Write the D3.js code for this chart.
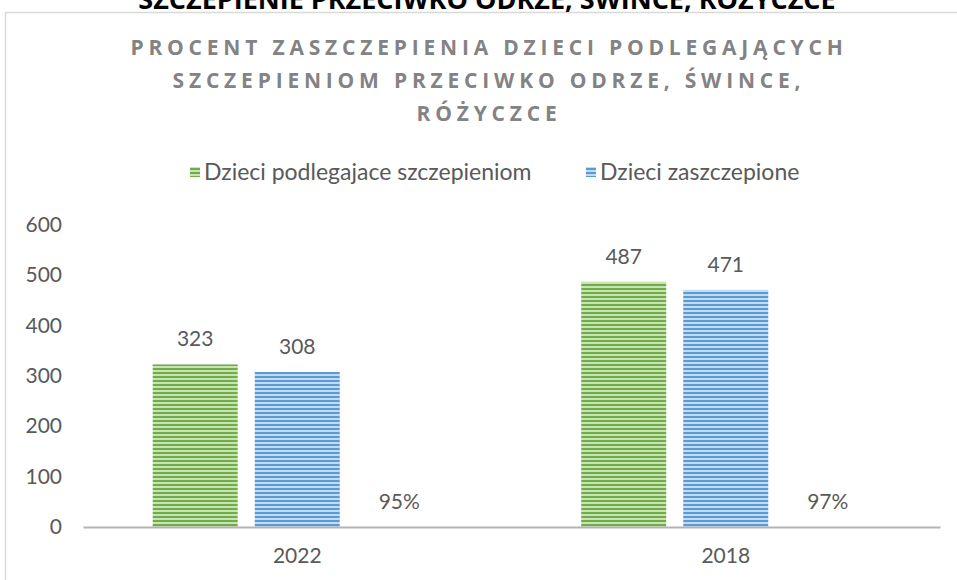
<!DOCTYPE html>
<html>
<head>
<meta charset="utf-8">
<script src="https://cdn.jsdelivr.net/npm/d3@7"></script>
<style>
  html, body { margin: 0; padding: 0; background: #fff; }
  svg { display: block; font-family: Lato, 'Open Sans', sans-serif; }
</style>
</head>
<body>
<div id="chart"></div>
<script>
// data
const categories = ['2022', '2018'];
const seriesNames = ['Dzieci podlegajace szczepieniom', 'Dzieci zaszczepione'];
const podlegajace = [323, 487];
const zaszczepione = [308, 471];
const procent = [0.95, 0.97];
const yTicks = [0, 100, 200, 300, 400, 500, 600];
const titleLines = [
  'PROCENT ZASZCZEPIENIA DZIECI PODLEGAJĄCYCH',
  'SZCZEPIENIOM PRZECIWKO ODRZE, ŚWINCE,',
  'RÓŻYCZCE'
];
const pageTitle = 'SZCZEPIENIE PRZECIWKO ODRZE, ŚWINCE, RÓŻYCZCE';

const width = 957, height = 580;
const margin = { top: 225, right: 17, bottom: 53, left: 83 };
const textColor = '#595959';

const svg = d3.select('#chart')
  .append('svg')
  .attr('width', width)
  .attr('height', height);

// striped fills like the Excel pattern
const defs = svg.append('defs');
const makeStripes = (id, dark, light) => {
  const p = defs.append('pattern')
    .attr('id', id)
    .attr('patternUnits', 'userSpaceOnUse')
    .attr('width', 8)
    .attr('height', 4);
  p.append('rect').attr('width', 8).attr('height', 4).attr('fill', light);
  p.append('rect').attr('width', 8).attr('height', 2).attr('fill', dark);
};
makeStripes('stripe-green', '#70ad47', '#c9e3b8');
makeStripes('stripe-blue', '#5b9bd5', '#c2dbf1');

// chart frame
svg.append('rect')
  .attr('x', 5.5)
  .attr('y', 12.5)
  .attr('width', 980)
  .attr('height', 620)
  .attr('fill', 'none')
  .attr('stroke', '#d9d9d9')
  .attr('stroke-width', 1.5);

// page heading, cut off at the top like in the source image
svg.append('text')
  .attr('x', 487)
  .attr('y', 9)
  .attr('text-anchor', 'middle')
  .style('font-family', "'Open Sans', sans-serif")
  .style('font-size', '27px')
  .style('font-weight', 'bold')
  .attr('fill', '#000')
  .text(pageTitle);

// chart title
svg.append('g')
  .selectAll('text')
  .data(titleLines)
  .enter()
  .append('text')
  .attr('x', 489)
  .attr('y', (d, i) => 55 + i * 33)
  .attr('text-anchor', 'middle')
  .style('font-family', "'Open Sans', sans-serif")
  .style('font-size', '21px')
  .style('font-weight', 'bold')
  .style('letter-spacing', '4.8px')
  .attr('fill', '#838383')
  .text((d) => d);

// legend
const legendFills = ['url(#stripe-green)', 'url(#stripe-blue)'];
const legendX = [190, 586];
const legend = svg.append('g')
  .selectAll('g')
  .data(seriesNames)
  .enter()
  .append('g')
  .attr('transform', (d, i) => `translate(${legendX[i]},172)`);
legend.append('rect')
  .attr('x', 0)
  .attr('y', -5)
  .attr('width', 10)
  .attr('height', 10)
  .attr('fill', (d, i) => legendFills[i]);
legend.append('text')
  .attr('x', 14)
  .attr('y', 8)
  .style('font-size', '23px')
  .attr('fill', textColor)
  .text((d) => d);

// scales
const x0 = d3.scaleBand()
  .domain(categories)
  .range([margin.left, width - margin.right])
  .padding(0);

const keys = ['podlegajace', 'zaszczepione', 'procent'];
const x1 = d3.scaleBand()
  .domain(keys)
  .range([0, x0.bandwidth()])
  .paddingInner(0.167)
  .paddingOuter(0.683);

const y = d3.scaleLinear()
  .domain([0, 600])
  .range([height - margin.bottom, margin.top]);

const rows = categories.map((c, i) => ({
  category: c,
  values: [
    { key: 'podlegajace', value: podlegajace[i], label: String(podlegajace[i]), fill: 'url(#stripe-green)' },
    { key: 'zaszczepione', value: zaszczepione[i], label: String(zaszczepione[i]), fill: 'url(#stripe-blue)' },
    { key: 'procent', value: procent[i], label: d3.format('.0%')(procent[i]), fill: 'none' }
  ]
}));

// y tick labels (no gridlines)
svg.append('g')
  .selectAll('text')
  .data(yTicks)
  .enter()
  .append('text')
  .attr('x', 62)
  .attr('y', (d) => y(d) + 7)
  .attr('text-anchor', 'end')
  .style('font-size', '21px')
  .attr('fill', textColor)
  .text((d) => d);

// bars
const groups = svg.append('g')
  .selectAll('g')
  .data(rows)
  .enter()
  .append('g')
  .attr('transform', (d) => `translate(${x0(d.category)},0)`);

groups.selectAll('rect')
  .data((d) => d.values)
  .enter()
  .append('rect')
  .attr('x', (d) => x1(d.key))
  .attr('y', (d) => y(d.value))
  .attr('width', x1.bandwidth())
  .attr('height', (d) => y(0) - y(d.value))
  .attr('fill', (d) => d.fill);

// data labels
groups.selectAll('text')
  .data((d) => d.values)
  .enter()
  .append('text')
  .attr('x', (d) => x1(d.key) + x1.bandwidth() / 2)
  .attr('y', (d) => y(d.value) - 18)
  .attr('text-anchor', 'middle')
  .style('font-size', '21px')
  .attr('fill', textColor)
  .text((d) => d.label);

// x axis
const xAxis = svg.append('g')
  .attr('transform', `translate(0,${y(0)})`)
  .call(d3.axisBottom(x0).tickSize(0).tickPadding(21));
xAxis.select('.domain')
  .attr('stroke', '#b3b3b3')
  .attr('stroke-width', 2);
xAxis.selectAll('text')
  .style('font-family', "Lato, 'Open Sans', sans-serif")
  .style('font-size', '21px')
  .attr('fill', textColor);
</script>
</body>
</html>
